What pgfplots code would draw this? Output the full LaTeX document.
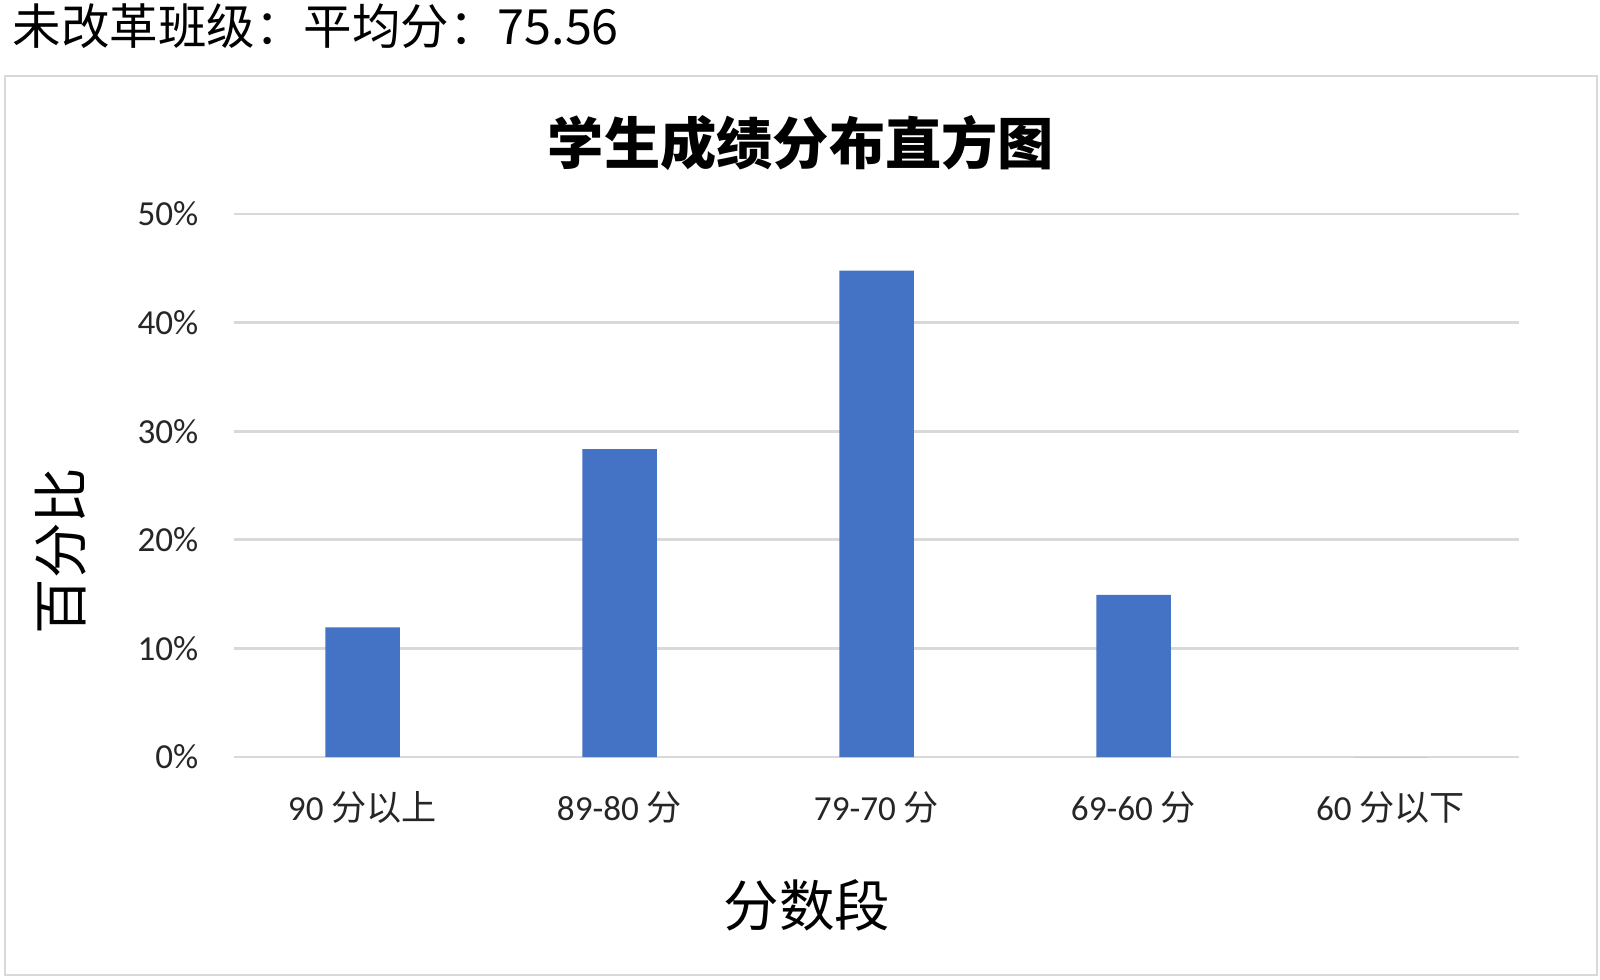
\documentclass[border=0pt]{standalone}
\usepackage{pgfplots}
\pgfplotsset{compat=1.18}
\usepackage{fontspec}
\setmainfont{Carlito}
\newfontfamily\cjk{Noto Sans CJK SC}
\definecolor{barblue}{HTML}{4472C4}
\definecolor{gridgray}{HTML}{D9D9D9}
\begin{document}
\begin{tikzpicture}
\useasboundingbox (0,0) rectangle (16,-9.79);
\draw[draw=gridgray, line width=0.8pt] (0.05,-0.76) rectangle (15.97,-9.75);
% header outside the chart box
\node[anchor=west, inner sep=0pt, font=\cjk\fontsize{13.8}{16}\selectfont] at (0.12,-0.26) {未改革班级：平均分：75.56};
\begin{axis}[
    at={(2.34cm,-7.57cm)}, anchor=south west,
    scale only axis,
    width=12.85cm, height=5.43cm,
    xmin=-0.5, xmax=4.5,
    ymin=0, ymax=50,
    ybar, bar width=0.745cm, bar shift=0pt,
    axis line style={draw=none},
    tick style={draw=none},
    ymajorgrids=true,
    grid style={gridgray, line width=0.8pt},
    ytick={0,10,20,30,40,50},
    yticklabels={0\%,10\%,20\%,30\%,40\%,50\%},
    xtick={0,1,2,3,4},
    xticklabels={90 {\cjk 分以上}, 89-80 {\cjk 分}, 79-70 {\cjk 分}, 69-60 {\cjk 分}, 60 {\cjk 分以下}},
    ticklabel style={font=\fontsize{10}{12}\selectfont, text=black!85},
    yticklabel style={anchor=east, inner sep=0pt, xshift=-0.35cm},
    xticklabel style={anchor=base, inner sep=0pt, yshift=-0.48cm},
]
\addplot[fill=barblue, draw=none] coordinates {
    (0,11.94) (1,28.36) (2,44.78) (3,14.93) (4,0)
};
\end{axis}
\node[font=\cjk\bfseries\fontsize{16}{19}\selectfont] at (8.01,-1.43) {学生成绩分布直方图};
\node[font=\cjk\fontsize{15.8}{19}\selectfont] at (8.07,-9.05) {分数段};
\node[font=\cjk\fontsize{15.8}{19}\selectfont, rotate=90] at (0.61,-5.51) {百分比};
\end{tikzpicture}
\end{document}
